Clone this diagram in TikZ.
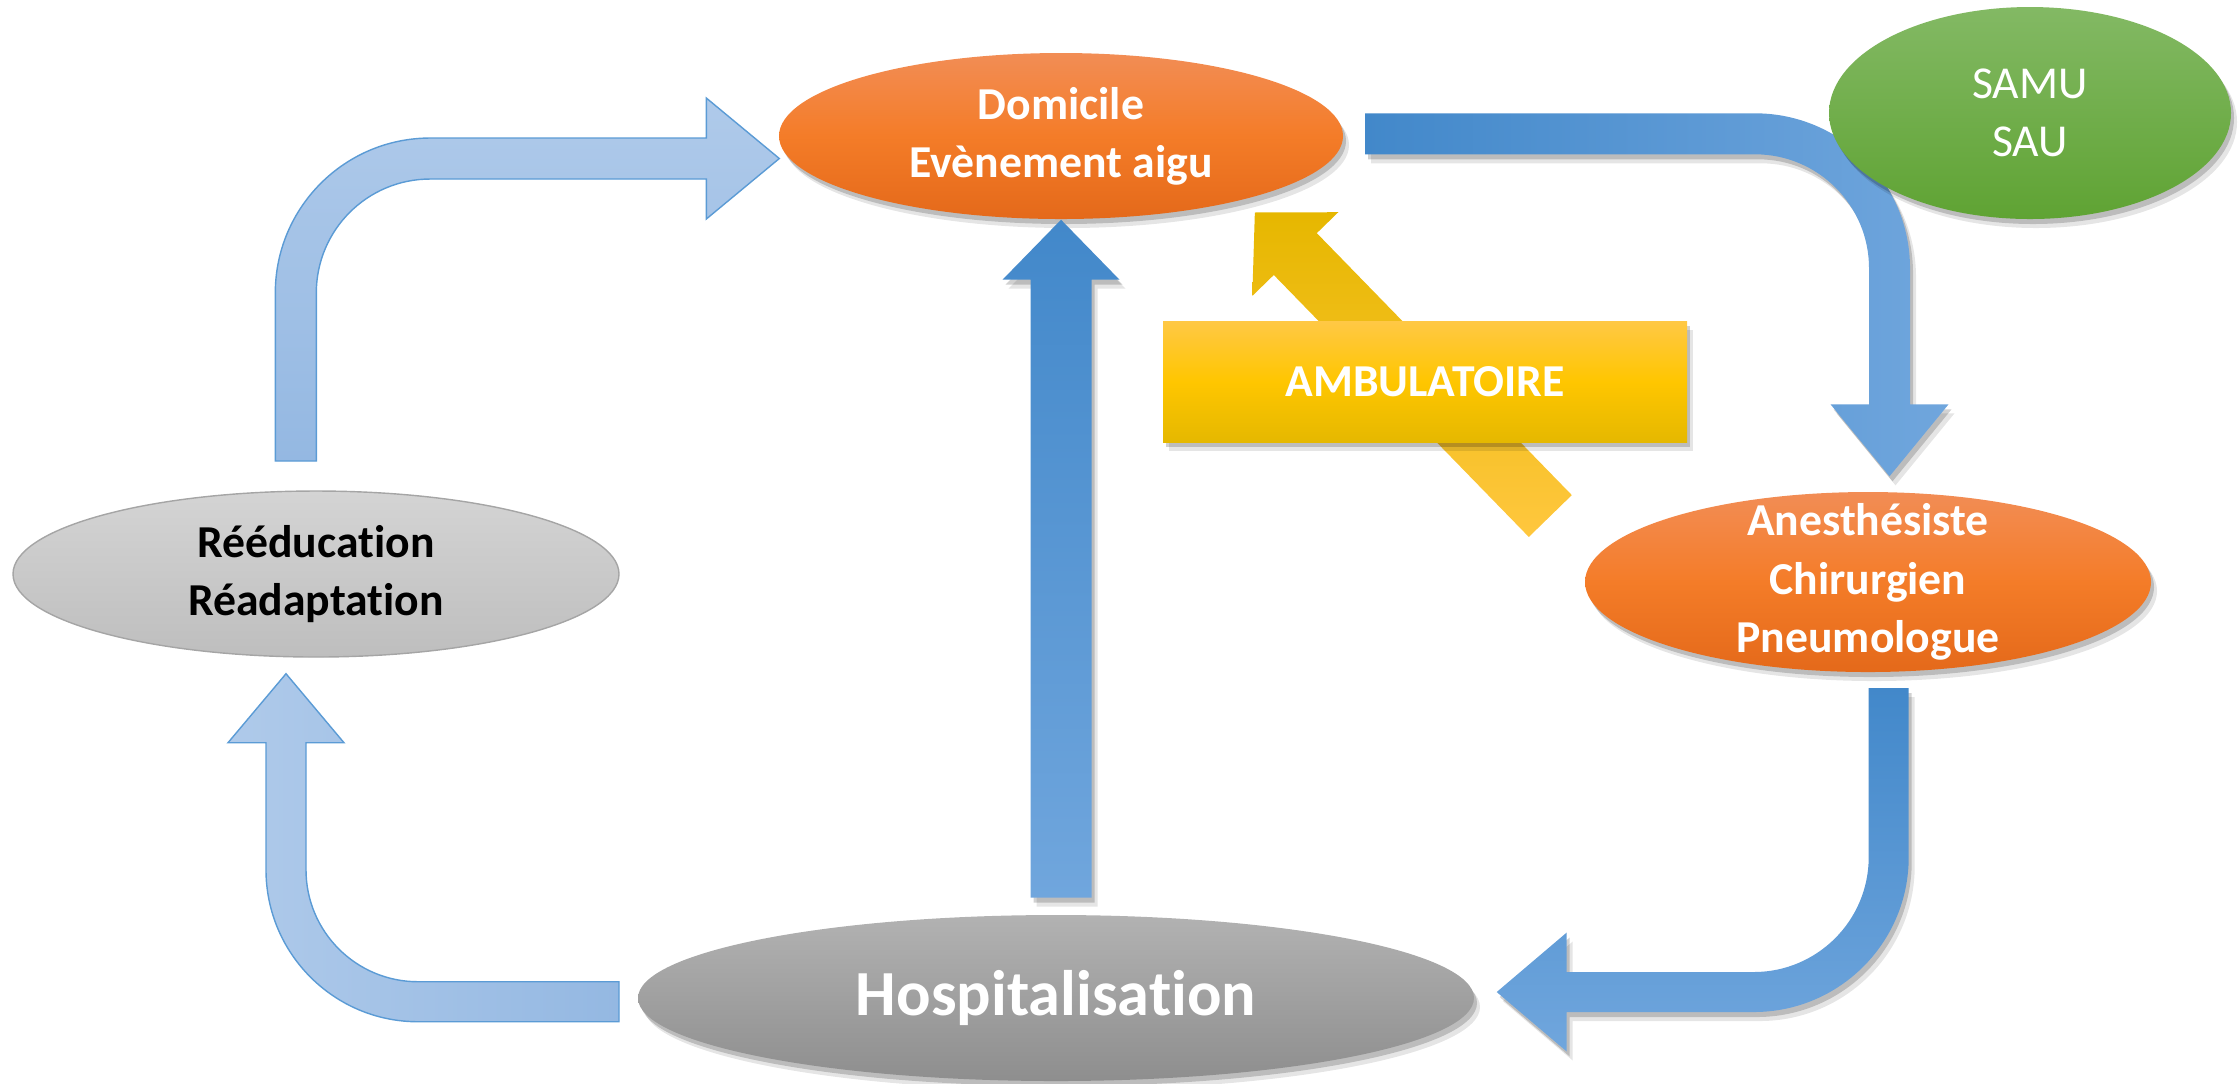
\documentclass[tikz,border=0pt]{standalone}
\usepackage{fontspec}
\setmainfont{Carlito}[Ligatures=NoCommon]
\usetikzlibrary{shapes.geometric, shadows, calc}
\definecolor{orangetop}{RGB}{242,141,85}
\definecolor{orangemid}{RGB}{244,124,40}
\definecolor{orangebot}{RGB}{228,105,26}
\definecolor{greentop}{RGB}{131,185,100}
\definecolor{greenbot}{RGB}{95,163,51}
\definecolor{greyltop}{RGB}{212,212,212}
\definecolor{greylbot}{RGB}{190,190,190}
\definecolor{greyline}{RGB}{165,165,165}
\definecolor{greydtop}{RGB}{178,178,178}
\definecolor{greydbot}{RGB}{142,142,142}
\definecolor{ambtop}{RGB}{255,200,69}
\definecolor{ambmid}{RGB}{255,198,0}
\definecolor{ambbot}{RGB}{229,184,0}
\definecolor{golddark}{RGB}{230,183,0}
\definecolor{goldlight}{RGB}{255,199,62}
\definecolor{bluedark}{RGB}{66,136,202}
\definecolor{bluelight}{RGB}{112,166,221}
\definecolor{paletop}{RGB}{175,202,234}
\definecolor{palebot}{RGB}{148,184,226}
\definecolor{paleline}{RGB}{91,155,213}

\begin{document}
\begin{tikzpicture}[
    x=0.1mm, y=-0.1mm,
    softshadow/.style={drop shadow={shadow xshift=0.3mm, shadow yshift=-0.5mm, opacity=0.18, fill=black},
                       drop shadow={shadow xshift=0.6mm, shadow yshift=-0.9mm, opacity=0.10, fill=black}},
    blob/.style={ellipse, inner sep=-30mm, align=center, text=white,
                 font=\fontsize{13}{16.6}\selectfont\bfseries},
    orangeblob/.style={blob, softshadow, top color=orangetop, bottom color=orangebot, middle color=orangemid},
    bluearrow/.style={softshadow},
    palearrow/.style={draw=paleline, line width=0.4pt, top color=paletop, bottom color=palebot},
    goldarrow/.style={top color=golddark, bottom color=goldlight}
  ]
  \useasboundingbox (0,0) rectangle (2239,1083);

  % Places
  \node[orangeblob, minimum width=56.4mm, minimum height=16.6mm] (dom) at (1061,136) {Domicile\\Evènement aigu};
  \node[orangeblob, minimum width=56.6mm, minimum height=18mm] (anes) at (1868,582) {Anesthésiste\\Chirurgien\\Pneumologue};
  \node[blob, draw=greyline, line width=0.4pt, text=black, top color=greyltop, bottom color=greylbot,
        minimum width=60.6mm, minimum height=16.6mm] (reed) at (316,574) {Rééducation\\Réadaptation};
  \node[blob, softshadow, top color=greydtop, bottom color=greydbot, minimum width=83.6mm, minimum height=16.6mm,
        font=\fontsize{18.3}{22}\selectfont\bfseries] (hosp) at (1056,998) {Hospitalisation};

  % Reeducation -> Domicile
  \path[palearrow, shift={($(dom.west)+(1,22.5)$)}]
    (-504,302.5) -- (-504,134.5) .. controls (-504,48.9) and (-434.6,-20.5) .. (-349,-20.5)
    -- (-73,-20.5) -- (-73,-60.5) -- (0,0) -- (-73,60.5) -- (-73,20.5) -- (-349,20.5)
    .. controls (-412,20.5) and (-463,71.5) .. (-463,134.5) -- (-463,302.5) -- cycle;

  % Domicile -> Anesthesiste
  \path[bluearrow, left color=bluedark, right color=bluelight, shift={($(anes.north)+(21.5,-15)$)}]
    (-524.5,-363) -- (-134.5,-363) .. controls (-48.9,-363) and (20.5,-293.6) .. (20.5,-208)
    -- (20.5,-72) -- (59,-72) -- (0,0) -- (-59,-72) -- (-20.5,-72) -- (-20.5,-208)
    .. controls (-20.5,-271) and (-71.5,-322) .. (-134.5,-322) -- (-524.5,-322) -- cycle;

  % Anesthesiste -> Hospitalisation
  \path[bluearrow, top color=bluedark, bottom color=bluelight, shift={($(hosp.east)+(22,-6)$)}]
    (372,-304) -- (412,-304) -- (412,-135) .. controls (412,-49.4) and (342.6,20) .. (257,20)
    -- (70,20) -- (70,59.5) -- (0,0) -- (70,-59.5) -- (70,-20) -- (257,-20)
    .. controls (320.5,-20) and (372,-71.5) .. (372,-135) -- cycle;

  % Hospitalisation -> Reeducation
  \path[palearrow, left color=paletop, right color=palebot, shift={($(reed.south)+(-30,16)$)}]
    (333,308) -- (132,308) .. controls (70.1,308) and (20,257.9) .. (20,196)
    -- (20,69) -- (58,69) -- (0,0) -- (-58,69) -- (-20,69) -- (-20,196)
    .. controls (-20,279.9) and (48.1,348) .. (132,348) -- (333,348) -- cycle;

  % Hospitalisation -> Domicile
  \path[bluearrow, top color=bluedark, bottom color=bluelight, shift={(dom.south)}]
    (-30.5,678) -- (-30.5,60) -- (-58.5,60) -- (0,0) -- (58.5,60) -- (30.5,60) -- (30.5,678) -- cycle;

  % Anesthesiste -> Domicile (ambulatoire)
  \path[goldarrow, shift={($(anes.west)+(-34,-66)$)}, rotate=134.23]
    (0,30) -- (365.6,30) -- (365.6,60) -- (423.6,0) -- (365.6,-60) -- (365.6,-30) -- (0,-30) -- cycle;

  % Labels on top
  \node[blob, softshadow, top color=greentop, bottom color=greenbot, minimum width=40.2mm, minimum height=21.2mm,
        font=\fontsize{13}{16.4}\selectfont] (samu) at (2030,113) {SAMU\\SAU};
  \node[rectangle, inner sep=0pt, softshadow, top color=ambtop, bottom color=ambbot, middle color=ambmid,
        text=white, font=\fontsize{13}{16.6}\selectfont\bfseries,
        minimum width=52.4mm, minimum height=12.1mm] (amb) at (1425,381.5) {AMBULATOIRE};
\end{tikzpicture}
\end{document}
